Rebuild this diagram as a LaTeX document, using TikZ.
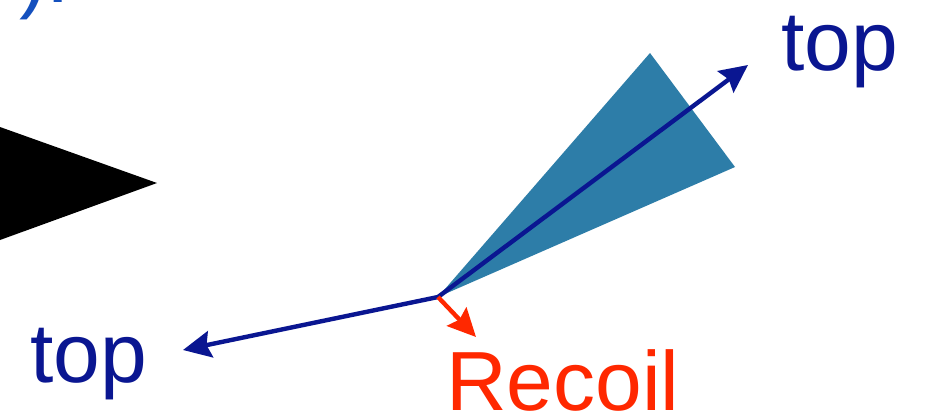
\documentclass[tikz,border=0pt]{standalone}
\usepackage{fontspec}
\setmainfont{Liberation Sans}
\usepackage{xcolor}
\usetikzlibrary{arrows.meta}
\definecolor{navy}{RGB}{10,22,145}
\definecolor{recoilred}{RGB}{255,40,0}
\definecolor{conefill}{RGB}{45,125,168}
\definecolor{captionblue}{RGB}{20,80,190}
\tikzset{
	lbl/.style={anchor=base west, inner sep=0pt, outer sep=0pt,
		font=\fontsize{63}{63}\selectfont},
	vec/.style={line width=3.3pt, navy,
		-{Stealth[length=21pt, width=20pt, inset=3pt]}},
	rvec/.style={vec, recoilred},
}
\begin{document}
\begin{tikzpicture}[x=0.75pt, y=-0.75pt]
				\clip (0,0) rectangle (927,412);
				\fill[white] (0,0) rectangle (927,412);
				\node[lbl, text=captionblue] at (19,2) (cap) {).};
				\fill[black] (0,127) -- (157,183) -- (0,240) -- cycle;
				\coordinate (v) at (438,297);
				\fill[conefill] (v) -- (650,53) -- (735,167) -- cycle;
				\coordinate (tipR) at (748,65);
				\coordinate (tipL) at (183,350);
				\coordinate (tipRec) at (476,337);
				\node[lbl, text=navy] at (781,70) (topR) {top};
				\node[lbl, text=navy] at (30,382) (topL) {top};
				\node[lbl, text=recoilred] at (446,410) (rec) {Recoil};
				\draw[vec] (v) -- (tipR);
				\draw[vec] (v) -- (tipL);
				\draw[rvec] (v) -- (tipRec);
			\end{tikzpicture}
\end{document}
